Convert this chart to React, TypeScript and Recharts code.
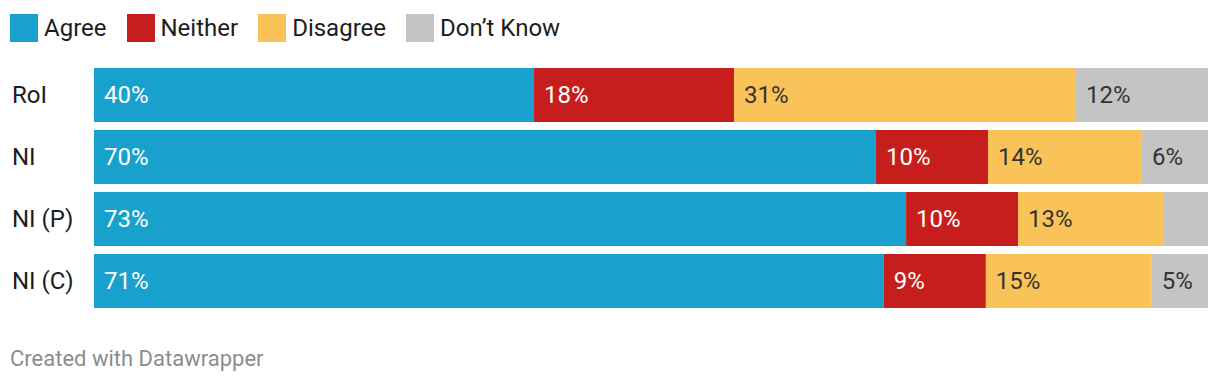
import React from "react";
import { BarChart, Bar, XAxis, YAxis, LabelList } from "recharts";

const categories = ["RoI", "NI", "NI (P)", "NI (C)"];
const agree = [39.5, 70.2, 72.9, 70.9];
const neither = [17.95, 10.05, 10.05, 9.16];
const disagree = [30.7, 13.82, 13.1, 14.9];
const dontKnow = [11.85, 5.93, 3.95, 5.04];

const seriesNames = ["Agree", "Neither", "Disagree", "Don\u2019t Know"];
const seriesKeys = ["agree", "neither", "disagree", "dontKnow"];
const seriesColors = ["#18a1cd", "#c71e1d", "#fac359", "#c4c4c4"];
const labelColors = ["#ffffff", "#ffffff", "#333333", "#333333"];

const data = categories.map((name, i) => ({
  name,
  agree: agree[i],
  neither: neither[i],
  disagree: disagree[i],
  dontKnow: dontKnow[i],
}));

const FONT = "Roboto, sans-serif";

const makeLabel = (color: string) => (props: any) => {
  const { x, y, width, height, value } = props;
  if (width < 50) return null;
  return (
    <text
      x={x + 10}
      y={y + height / 2}
      dominantBaseline="central"
      fill={color}
      fontSize={24}
      fontFamily={FONT}
    >
      {Math.round(value)}%
    </text>
  );
};

const CategoryTick = (props: any) => {
  const { y, payload } = props;
  return (
    <text
      x={12}
      y={y}
      dominantBaseline="central"
      fill="#1d1d1d"
      fontSize={24}
      fontFamily={FONT}
    >
      {payload.value}
    </text>
  );
};

export default function App() {
  return (
    <div
      style={{
        position: "absolute",
        left: 0,
        top: 0,
        width: 1220,
        height: 386,
        background: "#fff",
        fontFamily: FONT,
      }}
    >
      <div
        style={{
          position: "absolute",
          left: 10,
          top: 14,
          height: 28,
          display: "flex",
          alignItems: "center",
        }}
      >
        {seriesNames.map((n, i) => (
          <div
            key={n}
            style={{ display: "flex", alignItems: "center", marginRight: 20 }}
          >
            <div
              style={{
                width: 28,
                height: 28,
                background: seriesColors[i],
                marginRight: 6,
              }}
            />
            <span style={{ fontSize: 24, color: "#1d1d1d", lineHeight: "28px" }}>
              {n}
            </span>
          </div>
        ))}
      </div>
      <div style={{ position: "absolute", left: 0, top: 0 }}>
        <BarChart
          width={1220}
          height={386}
          data={data}
          layout="vertical"
          margin={{ top: 64, right: 12, bottom: 74, left: 12 }}
          barSize={54}
        >
          <XAxis type="number" domain={[0, 100]} hide />
          <YAxis
            type="category"
            dataKey="name"
            width={82}
            axisLine={false}
            tickLine={false}
            tick={<CategoryTick />}
          />
          {seriesKeys.map((k, i) => (
            <Bar
              key={k}
              dataKey={k}
              stackId="a"
              fill={seriesColors[i]}
              isAnimationActive={false}
            >
              <LabelList dataKey={k} content={makeLabel(labelColors[i])} />
            </Bar>
          ))}
        </BarChart>
      </div>
      <div
        style={{
          position: "absolute",
          left: 10,
          top: 345,
          fontSize: 22,
          color: "#8c8c8c",
          lineHeight: "28px",
        }}
      >
        Created with Datawrapper
      </div>
    </div>
  );
}
